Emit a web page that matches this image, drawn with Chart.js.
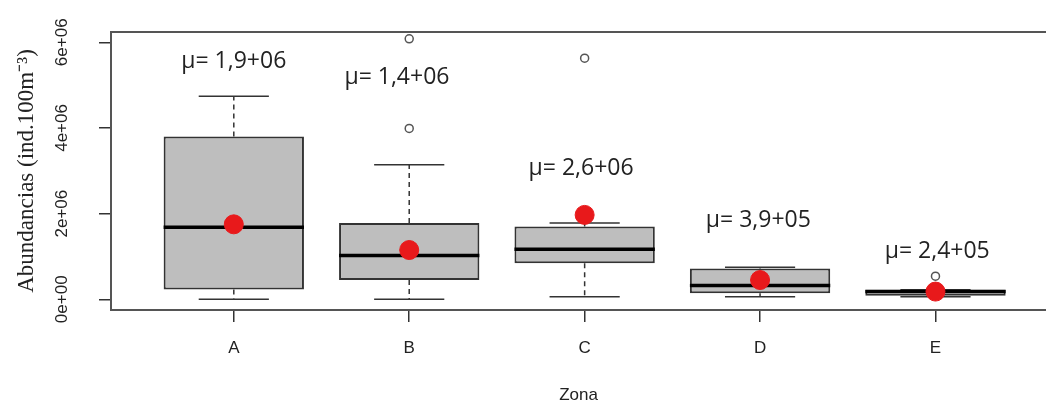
<!DOCTYPE html>
<html>
<head>
<meta charset="utf-8">
<script src="https://cdn.jsdelivr.net/npm/chart.js@4.4.1/dist/chart.umd.min.js"></script>
<style>
  html, body { margin: 0; padding: 0; background: #fff; }
  #wrap { width: 1046px; height: 405px; }
</style>
</head>
<body>
<div id="wrap"><canvas id="box"></canvas></div>
<script>
// ---------- Data ----------
const zonas = ['A', 'B', 'C', 'D', 'E'];
const q1 = [0.23e6, 0.45e6, 0.84e6, 0.14e6, 0.08e6];
const q3 = [3.80e6, 1.78e6, 1.70e6, 0.72e6, 0.22e6];
const medians = [1.68e6, 1.02e6, 1.17e6, 0.32e6, 0.18e6];
const whiskerLo = [0.0, 0.0, 0.06e6, 0.06e6, 0.06e6];
const whiskerHi = [4.74e6, 3.14e6, 1.78e6, 0.75e6, 0.22e6];
const means = [1.75e6, 1.15e6, 1.97e6, 0.45e6, 0.18e6];
const outliers = [[], [6.08e6, 3.99e6], [5.63e6], [], [0.54e6]];
const muLabels = ['μ= 1,9+06', 'μ= 1,4+06', 'μ= 2,6+06', 'μ= 3,9+05', 'μ= 2,4+05'];
const muLabelY = [5.56e6, 5.17e6, 3.06e6, 1.85e6, 1.11e6];
const muLabelShift = [0, -0.07, -0.02, -0.01, 0.01];
const yTicks = [0, 1e6, 2e6, 3e6, 4e6, 5e6, 6e6];

// ---------- Helpers ----------
function sciLabel(v) {
  if (v % 2e6 !== 0) return '';
  return v === 0 ? '0e+00' : (v / 1e6) + 'e+06';
}

// whiskers + medians, drawn right after the boxes so the means sit on top
const boxExtras = {
  id: 'boxExtras',
  afterDatasetDraw(chart, args) {
    if (args.index !== 0) return;
    const { ctx, scales: { x, y } } = chart;
    ctx.save();
    zonas.forEach((_, i) => {
      const cx = x.getPixelForValue(i);
      const capL = x.getPixelForValue(i - 0.2), capR = x.getPixelForValue(i + 0.2);
      ctx.strokeStyle = '#333';
      ctx.lineWidth = 1.5;
      ctx.setLineDash([5, 4]);
      ctx.beginPath();
      ctx.moveTo(cx, y.getPixelForValue(q3[i]));
      ctx.lineTo(cx, y.getPixelForValue(whiskerHi[i]));
      ctx.moveTo(cx, y.getPixelForValue(q1[i]));
      ctx.lineTo(cx, y.getPixelForValue(whiskerLo[i]));
      ctx.stroke();
      ctx.setLineDash([]);
      ctx.beginPath();
      ctx.moveTo(capL, y.getPixelForValue(whiskerHi[i]));
      ctx.lineTo(capR, y.getPixelForValue(whiskerHi[i]));
      ctx.moveTo(capL, y.getPixelForValue(whiskerLo[i]));
      ctx.lineTo(capR, y.getPixelForValue(whiskerLo[i]));
      ctx.stroke();
      // median
      ctx.strokeStyle = '#000';
      ctx.lineWidth = 3.5;
      ctx.beginPath();
      ctx.moveTo(x.getPixelForValue(i - 0.4), y.getPixelForValue(medians[i]));
      ctx.lineTo(x.getPixelForValue(i + 0.4), y.getPixelForValue(medians[i]));
      ctx.stroke();
    });
    ctx.restore();
  }
};

const frameAndText = {
  id: 'frameAndText',
  beforeDatasetsDraw(chart) {
    const { ctx, chartArea: a } = chart;
    ctx.save();
    ctx.strokeStyle = '#555';
    ctx.lineWidth = 2;
    ctx.beginPath();
    ctx.moveTo(a.right + 5, a.top);
    ctx.lineTo(a.left, a.top);
    ctx.lineTo(a.left, a.bottom);
    ctx.lineTo(a.right + 5, a.bottom);
    ctx.stroke();
    ctx.restore();
  },
  afterDatasetsDraw(chart) {
    const { ctx, scales: { x, y } } = chart;
    ctx.save();
    ctx.fillStyle = '#222';
    ctx.font = '23px "Open Sans"';
    ctx.textAlign = 'center';
    ctx.textBaseline = 'middle';
    muLabels.forEach((t, i) => {
      ctx.fillText(t, x.getPixelForValue(i + muLabelShift[i]), y.getPixelForValue(muLabelY[i]));
    });
    ctx.restore();
  }
};

new Chart(document.getElementById('box'), {
  type: 'bar',
  data: {
    datasets: [
      {
        label: 'caja',
        data: zonas.map((z, i) => ({ x: i, y: [q1[i], q3[i]] })),
        backgroundColor: '#bebebe',
        borderColor: '#333',
        borderWidth: 2,
        borderSkipped: false,
        categoryPercentage: 0.8,
        barPercentage: 1.0,
        order: 3
      },
      {
        type: 'scatter',
        label: 'atípicos',
        data: outliers.flatMap((arr, i) => arr.map(v => ({ x: i, y: v }))),
        pointRadius: 4,
        pointBackgroundColor: '#fff',
        pointBorderColor: '#555',
        pointBorderWidth: 1.5,
        order: 2
      },
      {
        type: 'scatter',
        label: 'media',
        data: means.map((m, i) => ({ x: i, y: m })),
        pointRadius: 9.5,
        pointBackgroundColor: '#e8191b',
        pointBorderColor: '#e8191b',
        pointBorderWidth: 1,
        order: 1
      }
    ]
  },
  options: {
    responsive: true,
    maintainAspectRatio: false,
    animation: false,
    layout: { autoPadding: false, padding: { top: 32, right: 0, left: 0, bottom: 0 } },
    plugins: { legend: { display: false }, tooltip: { enabled: false } },
    scales: {
      x: {
        type: 'linear',
        offset: false,
        min: -0.7,
        max: 4.63,
        afterBuildTicks: s => { s.ticks = zonas.map((_, i) => ({ value: i })); },
        afterFit: s => { s.height = 95; },
        ticks: {
          callback: v => zonas[v],
          color: '#222',
          font: { family: 'Liberation Sans', size: 17 },
          padding: 16,
          maxRotation: 0
        },
        grid: { display: true, offset: false, drawOnChartArea: false, tickLength: 12, color: '#333', lineWidth: 1.5 },
        border: { display: false },
        title: {
          display: true, text: 'Zona', color: '#222',
          font: { family: 'Liberation Sans', size: 17 },
          padding: { top: 0, bottom: -1 }
        }
      },
      y: {
        min: -0.25e6,
        max: 6.24e6,
        afterBuildTicks: s => { s.ticks = yTicks.map(v => ({ value: v })); },
        afterFit: s => { s.width = 111; },
        ticks: {
          callback: v => sciLabel(v),
          color: '#222',
          font: { family: 'Liberation Sans', size: 17 },
          minRotation: 90,
          maxRotation: 90,
          crossAlign: 'center',
          padding: 13
        },
        grid: { display: true, drawOnChartArea: false, tickLength: 12, color: '#333', lineWidth: 1.5 },
        border: { display: false },
        title: {
          display: true, text: 'Abundancias (ind.100m⁻³)', color: '#222',
          font: { family: 'Liberation Serif', size: 23 },
          padding: { top: 13, bottom: 0 }
        }
      }
    }
  },
  plugins: [boxExtras, frameAndText]
});
</script>
</body>
</html>
